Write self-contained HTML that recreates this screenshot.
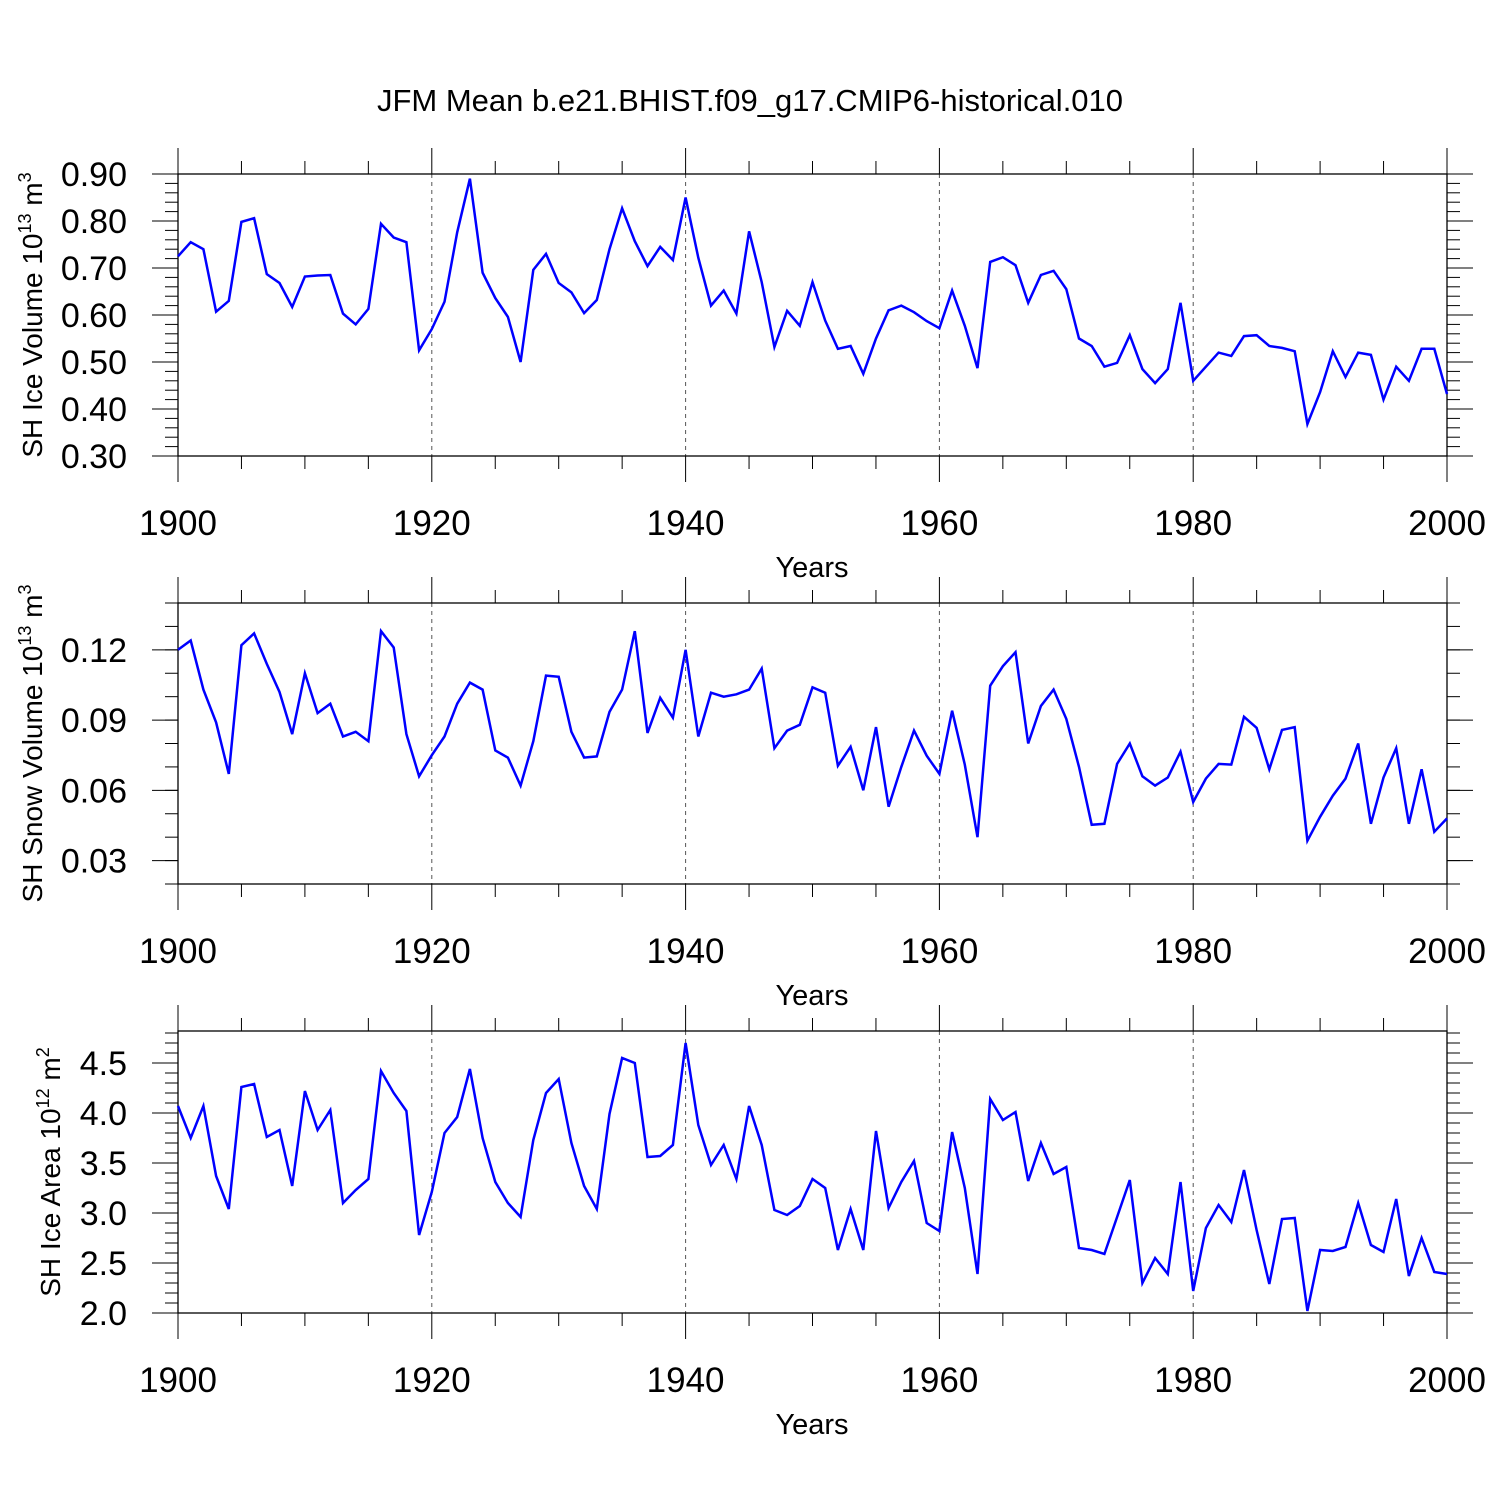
<!DOCTYPE html>
<html><head><meta charset="utf-8"><style>
html,body{margin:0;padding:0;background:#fff}
svg{display:block;font-family:"Liberation Sans",sans-serif}
</style></head><body>
<svg id="c" width="1500" height="1500" viewBox="0 0 1500 1500">
<text x="750" y="111" text-anchor="middle" font-size="31">JFM Mean b.e21.BHIST.f09_g17.CMIP6-historical.010</text>
</svg>
<script>
const years=[];for(let y=1900;y<=2000;y++)years.push(y);
const iceVolume=[0.725,0.755,0.74,0.607,0.63,0.798,0.806,0.687,0.668,0.617,0.682,0.684,0.685,0.603,0.58,0.613,0.794,0.765,0.755,0.525,0.57,0.628,0.776,0.89,0.69,0.636,0.596,0.50,0.696,0.73,0.668,0.648,0.604,0.632,0.74,0.827,0.757,0.704,0.745,0.717,0.85,0.722,0.62,0.652,0.603,0.778,0.67,0.532,0.609,0.577,0.67,0.588,0.528,0.534,0.475,0.55,0.61,0.62,0.606,0.587,0.572,0.652,0.577,0.487,0.713,0.723,0.706,0.626,0.685,0.694,0.655,0.55,0.534,0.49,0.498,0.557,0.485,0.455,0.485,0.626,0.46,0.49,0.52,0.513,0.555,0.557,0.534,0.53,0.523,0.368,0.436,0.523,0.468,0.52,0.515,0.42,0.49,0.46,0.528,0.528,0.432];
const snowVolume=[0.120,0.124,0.103,0.089,0.067,0.122,0.127,0.114,0.102,0.084,0.110,0.093,0.097,0.083,0.085,0.081,0.128,0.121,0.084,0.066,0.075,0.083,0.097,0.106,0.103,0.077,0.074,0.062,0.081,0.109,0.1085,0.085,0.074,0.0745,0.0935,0.103,0.128,0.0845,0.0995,0.091,0.120,0.083,0.1017,0.100,0.101,0.103,0.112,0.078,0.0855,0.088,0.104,0.1017,0.0705,0.0786,0.060,0.087,0.053,0.070,0.0855,0.0748,0.067,0.094,0.071,0.040,0.1047,0.113,0.119,0.080,0.096,0.103,0.0905,0.070,0.0453,0.0457,0.0713,0.080,0.066,0.062,0.0655,0.0765,0.055,0.065,0.0713,0.071,0.0914,0.0867,0.069,0.0858,0.087,0.0385,0.0487,0.0577,0.065,0.080,0.0457,0.0655,0.078,0.0457,0.069,0.0423,0.048];
const iceArea=[4.07,3.75,4.07,3.37,3.04,4.26,4.29,3.76,3.83,3.27,4.22,3.83,4.03,3.10,3.23,3.34,4.42,4.2,4.02,2.78,3.21,3.80,3.96,4.44,3.75,3.31,3.10,2.96,3.73,4.20,4.34,3.70,3.27,3.04,3.99,4.55,4.50,3.56,3.57,3.68,4.70,3.88,3.48,3.68,3.34,4.07,3.68,3.03,2.98,3.07,3.34,3.25,2.63,3.04,2.63,3.82,3.05,3.31,3.52,2.90,2.82,3.81,3.25,2.39,4.14,3.93,4.01,3.32,3.70,3.39,3.46,2.65,2.63,2.59,2.96,3.33,2.30,2.55,2.39,3.31,2.22,2.85,3.08,2.91,3.43,2.83,2.29,2.94,2.95,2.02,2.63,2.62,2.66,3.10,2.68,2.61,3.14,2.37,2.75,2.41,2.39];
const xTickLabels=["1900","1920","1940","1960","1980","2000"];
const iceVolTicks=["0.30","0.40","0.50","0.60","0.70","0.80","0.90"];
const snowTicks=["0.03","0.06","0.09","0.12"];
const areaTicks=["2.0","2.5","3.0","3.5","4.0","4.5"];

const NS="http://www.w3.org/2000/svg";
const svg=document.getElementById('c');
function mk(t,a,p){const e=document.createElementNS(NS,t);for(const k in a)e.setAttribute(k,a[k]);(p||svg).appendChild(e);return e;}
const X0=178,X1=1447;
function xs(v){return X0+(v-1900)/100*(X1-X0);}

function panel(name,top,bot,ymin,ymax,minorStep,ticks,data,titleHTML,titleX){
  const g=mk('g',{});
  
  
  const ys=v=>bot-(v-ymin)/(ymax-ymin)*(bot-top);
  for(const yr of [1920,1940,1960,1980]){
    const l=mk('line',{x1:xs(yr),x2:xs(yr),y1:top,y2:bot,stroke:'#555','stroke-width':1,'stroke-dasharray':'4,4'},g);
    
    
  }
  const fr=mk('rect',{x:X0,y:top,width:X1-X0,height:bot-top,fill:'none',stroke:'#000','stroke-width':1.3},g);
  
  
  for(let yr=1900;yr<=2000;yr+=5){
    const L=(yr%20===0)?26:13;const x=xs(yr);
    mk('line',{x1:x,x2:x,y1:top-L,y2:top,stroke:'#000','stroke-width':1},g);
    mk('line',{x1:x,x2:x,y1:bot,y2:bot+L,stroke:'#000','stroke-width':1},g);
  }
  xTickLabels.forEach(s=>{
    const t=mk('text',{x:xs(+s),y:bot+79,'text-anchor':'middle','font-size':35},g);t.textContent=s;
    
    
  });
  const yt=mk('text',{x:812,y:bot+121,'text-anchor':'middle','font-size':29},g);yt.textContent='Years';
  
  
  const n=Math.round((ymax-ymin)/minorStep);
  for(let i=0;i<=n;i++){const y=ys(ymin+i*minorStep);
    mk('line',{x1:X0-13,x2:X0,y1:y,y2:y,stroke:'#000','stroke-width':1},g);
    mk('line',{x1:X1,x2:X1+13,y1:y,y2:y,stroke:'#000','stroke-width':1},g);}
  ticks.forEach(s=>{const y=ys(+s);
    mk('line',{x1:X0-26,x2:X0,y1:y,y2:y,stroke:'#000','stroke-width':1},g);
    mk('line',{x1:X1,x2:X1+26,y1:y,y2:y,stroke:'#000','stroke-width':1},g);
    const t=mk('text',{x:127,y:y+12,'text-anchor':'end','font-size':34},g);t.textContent=s;
    
    
  });
  const cy=(top+bot)/2;
  const tt=mk('text',{x:titleX,y:cy,'text-anchor':'middle','font-size':28,transform:`rotate(-90 ${titleX} ${cy})`},g);
  tt.innerHTML=titleHTML;
  
  
  const pts=data.map((v,i)=>xs(years[i]).toFixed(1)+','+ys(v).toFixed(1)).join(' ');
  const pl=mk('polyline',{points:pts,fill:'none',stroke:'#0000ff','stroke-width':2.5,'stroke-linejoin':'miter'},g);
  
  
}
panel('ice-volume',174,456,0.30,0.90,0.02,iceVolTicks,iceVolume,'SH Ice Volume 10<tspan font-size="18" dy="-11">13</tspan><tspan dy="11"> m</tspan><tspan font-size="18" dy="-11">3</tspan>',42);
panel('snow-volume',603,884,0.02,0.14,0.01,snowTicks,snowVolume,'SH Snow Volume 10<tspan font-size="18" dy="-11">13</tspan><tspan dy="11"> m</tspan><tspan font-size="18" dy="-11">3</tspan>',42);
panel('ice-area',1031,1313,2.0,4.82,0.1,areaTicks,iceArea,'SH Ice Area 10<tspan font-size="18" dy="-11">12</tspan><tspan dy="11"> m</tspan><tspan font-size="18" dy="-11">2</tspan>',60);
</script>
</body></html>
